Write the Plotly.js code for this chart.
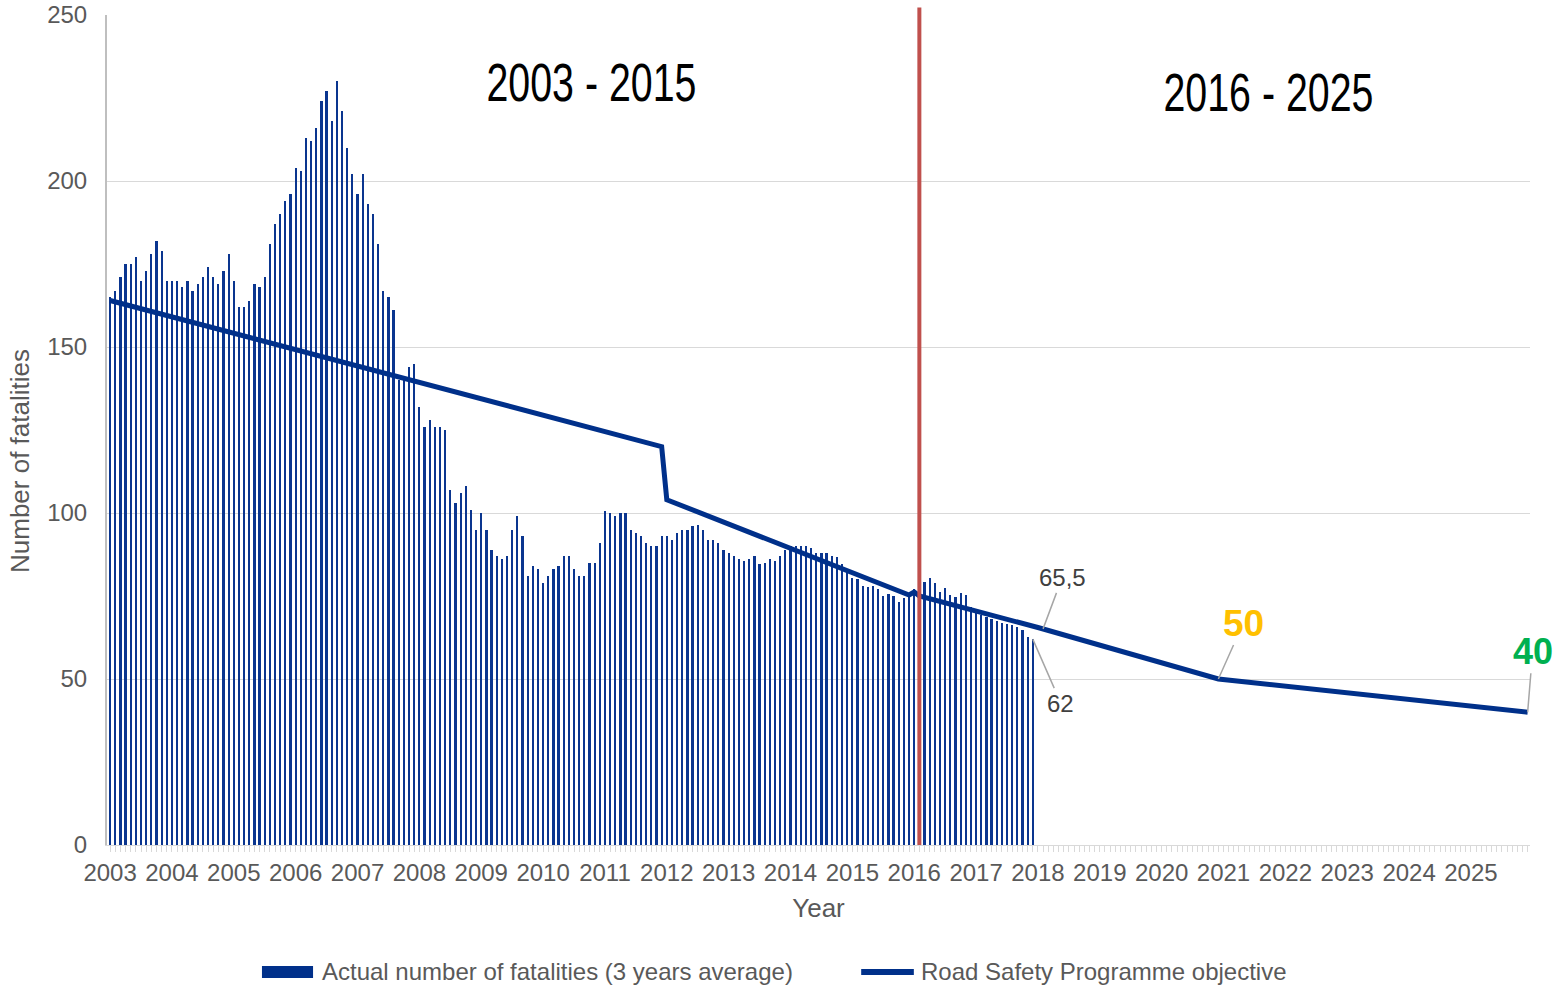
<!DOCTYPE html>
<html>
<head>
<meta charset="utf-8">
<script src="https://cdn.plot.ly/plotly-3.0.1.min.js"></script>
<style>html,body{margin:0;padding:0;background:#fff;}#chart{width:1555px;height:985px;}</style>
</head>
<body>
<div id="chart"></div>
<script>
// ---- data ----
const barYears = [2003,2004,2005,2006,2007,2008,2009,2010,2011,2012,2013,2014,2015,2016,2017];
const fat2003 = [165,167,171,175,175,177,170,173,178,182,179,170];
const fat2004 = [170,170,168,170,167,169,171,174,171,169,173,178];
const fat2005 = [170,162,162,164,169,168,171,181,187,190,194,196];
const fat2006 = [204,203,213,212,216,224,227,218,230,221,210,202];
const fat2007 = [196,202,193,190,181,167,165,161,140,141,144,145];
const fat2008 = [132,126,128,126,126,125,107,103,106,108,101,95];
const fat2009 = [100,95,89,87,86,87,95,99,93,81,84,83];
const fat2010 = [79,81,83,84,87,87,83,81,81,85,85,91];
const fat2011 = [100.7,100,99,100,100,95,94,93,91,90,90,93];
const fat2012 = [93,92,94,95,95,96,96.5,95,92,92,91,89];
const fat2013 = [88,87,86,85.6,86,87,84.6,85,86,85.6,87,89];
const fat2014 = [90,90,90,90,89.6,88,88,88,87,86.6,84.6,82.8];
const fat2015 = [80.5,80,78,77.8,78,77,75,75.6,75,73.3,74.3,74.8];
const fat2016 = [77,76,79.3,80.3,79,76.3,77.3,75.3,74.6,76,75.3,71.8];
const fat2017 = [70,69.3,68.6,68,67.6,67,66.6,66.2,65.8,64.8,62.6,62];
const fatByYear = [fat2003,fat2004,fat2005,fat2006,fat2007,fat2008,fat2009,fat2010,fat2011,fat2012,fat2013,fat2014,fat2015,fat2016,fat2017];

// objective (year as decimal, month steps)
const objYears  = [2003.0, 2011.917, 2012.0, 2015.917, 2016.0, 2016.083, 2018.0, 2020.917, 2025.917];
const objValues = [164, 120, 104, 75.3, 76.2, 75, 65.5, 50, 40];

const tickYears = [2003,2004,2005,2006,2007,2008,2009,2010,2011,2012,2013,2014,2015,2016,2017,2018,2019,2020,2021,2022,2023,2024,2025];
const splitYear = 2016.083;
const periodLabels = ["2003 - 2015", "2016 - 2025"];
const seriesNames = ["Actual number of fatalities (3 years average)", "Road Safety Programme objective"];

// monthly categories
const barX = [], barY = [];
barYears.forEach((yr, i) => {
  fatByYear[i].forEach((v, m) => { barX.push(yr + m / 12); barY.push(v); });
});

const navy = '#00308a';
const grey = '#595959';
const fam = 'Liberation Sans, Arial, sans-serif';

const traces = [
  {type:'bar', x: barX, y: barY, width: 0.036, marker:{color:'#0a358f', line:{width:0}},
   name: seriesNames[0], showlegend:false, hoverinfo:'x+y'},
  {type:'scatter', mode:'lines', x: objYears, y: objValues, line:{color: navy, width:5},
   name: seriesNames[1], showlegend:false}
];

const lastBarX = barX[barX.length-1], lastBarY = barY[barY.length-1];
const layout = {
  width:1555, height:985,
  margin:{l:107, r:25, t:15, b:140},
  paper_bgcolor:'#fff', plot_bgcolor:'#fff',
  font:{family: fam, color: grey, size:24},
  bargap:0,
  xaxis:{
    range:[2002.95, 2025.955], tickmode:'array', tickvals: tickYears, ticktext: tickYears.map(String),
    ticks:'outside', ticklen:6, tickcolor:'#d9d9d9', showgrid:false, zeroline:false,
    showline:true, linecolor:'#d9d9d9', linewidth:1, ticklabelstandoff:0,
    minor:{tick0:2003, dtick:1/12, ticks:'outside', ticklen:6, tickcolor:'#d9d9d9', showgrid:false},
    tickfont:{size:24, color:grey},
    title:{text:'Year', font:{size:26, color:grey}, standoff:14}
  },
  yaxis:{
    range:[0,250], dtick:50, tick0:0, showgrid:true, gridcolor:'#d9d9d9', gridwidth:1,
    zeroline:false, showline:true, linecolor:'#bfbfbf', linewidth:2, ticks:'',
    ticklabelstandoff:13, tickfont:{size:24, color:grey}
  },
  shapes:[
    {type:'line', xref:'x', yref:'paper', x0:splitYear, x1:splitYear, y0:0, y1:1.009,
     line:{color:'#c0504d', width:4}, layer:'above'},
    // custom legend
    {type:'rect', xref:'paper', yref:'paper', x0:0.1089, x1:0.1448, y0:-0.1602, y1:-0.1458,
     fillcolor: navy, line:{width:0}},
    {type:'line', xref:'paper', yref:'paper', x0:0.5300, x1:0.5670, y0:-0.153, y1:-0.153,
     line:{color: navy, width:6}}
  ],
  annotations:[
    {x:2010.79, y:229.8, xref:'x', yref:'y', text: periodLabels[0], showarrow:false,
     font:{family:'Liberation Sans Narrow, Arial Narrow, Liberation Sans, sans-serif', size:53, color:'#000'}},
    {x:2021.72, y:226.8, xref:'x', yref:'y', text: periodLabels[1], showarrow:false,
     font:{family:'Liberation Sans Narrow, Arial Narrow, Liberation Sans, sans-serif', size:53, color:'#000'}},
    {x:2018.083, y:objValues[6]-0.4, xref:'x', yref:'y', text:String(objValues[6]).replace('.', ','),
     showarrow:true, arrowhead:0, arrowwidth:1.5, arrowcolor:'#a6a6a6', ax:19, ay:-51, standoff:0,
     font:{size:24, color:'#404040'}},
    {x:lastBarX, y:lastBarY, xref:'x', yref:'y', text:String(lastBarY),
     showarrow:true, arrowhead:0, arrowwidth:1.5, arrowcolor:'#a6a6a6', ax:28, ay:64, standoff:0,
     font:{size:24, color:'#404040'}},
    {x:objYears[7], y:objValues[7], xref:'x', yref:'y', text:'<b>'+objValues[7]+'</b>',
     showarrow:true, arrowhead:0, arrowwidth:1.5, arrowcolor:'#a6a6a6', ax:25, ay:-56, standoff:0,
     font:{size:37, color:'#ffc000'}},
    {x:objYears[8], y:objValues[8], xref:'x', yref:'y', text:'<b>'+objValues[8]+'</b>',
     showarrow:true, arrowhead:0, arrowwidth:1.5, arrowcolor:'#a6a6a6', ax:5, ay:-61, standoff:0,
     font:{size:36, color:'#00b050'}},
    {x:0.1497, y:-0.153, xref:'paper', yref:'paper', xanchor:'left', yanchor:'middle',
     text: seriesNames[0], showarrow:false, font:{size:24, color:grey}},
    {x:0.5706, y:-0.153, xref:'paper', yref:'paper', xanchor:'left', yanchor:'middle',
     text: seriesNames[1], showarrow:false, font:{size:24, color:grey}},
    // y-axis title
    {x:-0.0611, y:0.4627, xref:'paper', yref:'paper', xanchor:'center', yanchor:'middle',
     text:'Number of fatalities', textangle:-90, showarrow:false, font:{size:26, color:grey}}
  ]
};

Plotly.newPlot('chart', traces, layout, {displayModeBar:false, staticPlot:true}).then(() => {
  // narrow the two period labels to mimic a condensed face
  const anns = document.querySelectorAll('#chart .annotation');
  [0, 1].forEach(i => {
    const t = anns[i] && anns[i].querySelector('text.annotation-text');
    if (!t) return;
    const bb = t.getBBox();
    const target = 210;
    if (bb.width > target) {
      const s = target / bb.width;
      const cx = bb.x + bb.width / 2;
      t.setAttribute('transform', 'translate(' + (cx * (1 - s)) + ',0) scale(' + s + ',1)');
    }
  });
});
</script>
</body>
</html>
